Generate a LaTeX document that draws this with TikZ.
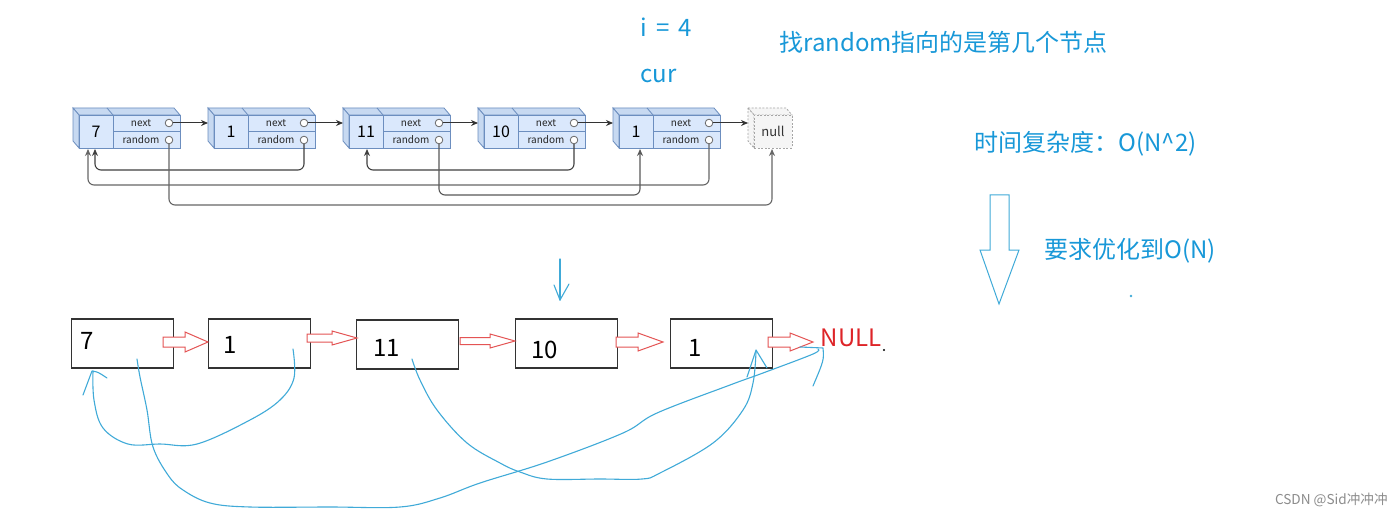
\documentclass[tikz,border=0pt]{standalone}
\usepackage{fontspec}
\setmainfont{Noto Sans CJK SC}
\usetikzlibrary{arrows.meta}
\definecolor{nblue}{HTML}{DAE8FC}
\definecolor{nblued}{HTML}{C7D9F1}
\definecolor{nstroke}{HTML}{6C8EBF}
\definecolor{tblue}{RGB}{24,152,216}
\definecolor{cblue}{RGB}{64,170,216}
\definecolor{rred}{RGB}{222,36,40}
\definecolor{ared}{RGB}{228,84,84}
\newcommand\redarrow[6]{\draw[redarr] (#1,#4-#5) -- (#2,#4-#5) -- (#2,#4-#6) -- (#3,#4) -- (#2,#4+#6) -- (#2,#4+#5) -- (#1,#4+#5) -- cycle;}
\begin{document}
\begin{tikzpicture}[x=0.5pt,y=-0.5pt,
  face/.style={draw=nstroke,line width=0.4pt,fill=nblue},
  sideface/.style={draw=nstroke,line width=0.4pt,fill=nblued},
  nullface/.style={draw=gray!70,dashed,dash pattern=on 1pt off 0.8pt,line width=0.4pt,fill=gray!8},
  pcirc/.style={circle,draw=black!60,fill=white,line width=0.4pt,minimum size=3.8pt,inner sep=0pt},
  small/.style={font=\fontsize{5}{6}\selectfont,inner sep=0pt,text=black!85},
  tval/.style={font=\fontsize{8}{10}\selectfont,inner sep=0pt},
  tnext/.style={draw=black!80,line width=0.5pt,-{Stealth[length=3.5pt,width=3pt]}},
  tlink/.style={draw=black!75,line width=0.55pt,rounded corners=3pt,-{Stealth[length=3.5pt,width=3pt]}},
  bbox/.style={draw=black!80,line width=0.6pt,minimum width=51pt,minimum height=24.5pt,inner sep=0pt},
  bval/.style={font=\fontsize{12}{14}\selectfont,inner sep=0pt},
  note/.style={text=tblue,font=\fontsize{12}{14}\selectfont,inner sep=0pt,anchor=west},
  hand/.style={draw=cblue,line width=0.55pt,line cap=round,line join=round},
  redarr/.style={draw=ared,fill=white,line width=0.5pt,line join=miter},
]
\useasboundingbox[fill=white] (0,0) rectangle (1400,518);

% ---------- top linked list ----------
\foreach \k/\v in {1/7,2/1,3/11,4/10,5/1}{
  \pgfmathsetmacro\X{79+135*(\k-1)}
  \filldraw[sideface] (\X-6,108) -- (\X+95,108) -- (\X+101,115) -- (\X,115) -- cycle;
  \filldraw[sideface] (\X-6,108) -- (\X,115) -- (\X,148) -- (\X-6,141) -- cycle;
  \draw[nstroke,line width=0.4pt] (\X+28,108) -- (\X+34,115);
  \node[face,minimum width=50.5pt,minimum height=16.5pt,inner sep=0pt] (t\k) at (\X+50.5,131.5) {};
  \draw[nstroke,line width=0.4pt] (\X+34,115) -- (\X+34,148);
  \draw[nstroke,line width=0.4pt] (\X+34,131.5) -- (\X+101,131.5);
  \node[tval] (v\k) at (\X+17,132) {\v};
  \node[small] (nx\k) at (\X+62,123) {next};
  \node[small] (rd\k) at (\X+62,140) {random};
  \node[pcirc] (n\k) at (\X+90,123) {};
  \node[pcirc] (r\k) at (\X+90,140) {};
  \coordinate (in\k) at (\X-6,123);
}
% null box
\filldraw[nullface] (748,108) -- (786,108) -- (792,115) -- (754,115) -- cycle;
\filldraw[nullface] (748,108) -- (754,115) -- (754,148) -- (748,141) -- cycle;
\node[nullface,minimum width=19pt,minimum height=16.5pt,inner sep=0pt,
      font=\fontsize{6.5}{8}\selectfont,text=black!80] (tn) at (773,131.5) {null};
\coordinate (innull) at (748,123);

\foreach \a/\b in {1/2,2/3,3/4,4/5}{\draw[tnext] (n\a.east) -- (in\b);}
\draw[tnext] (n5.east) -- (innull);

\coordinate (a1o) at (88,149);
\coordinate (a1i) at (95,149);
\coordinate (a3) at (367,149);
\coordinate (a5) at (640,149);
\coordinate (anull) at (772,149);
\coordinate (lvA) at (0,170);
\coordinate (lvB) at (0,185);
\coordinate (lvC) at (0,195);
\coordinate (lvE) at (0,205);
\draw[tlink] (r2.south) |- (a1i |- lvA) -- (a1i);
\draw[tlink] (r4.south) |- (a3 |- lvA) -- (a3);
\draw[tlink,draw=black!60] (r5.south) |- (a1o |- lvB) -- (a1o);
\draw[tlink,draw=black!65] (r3.south) |- (a5 |- lvC) -- (a5);
\draw[tlink,draw=black!60] (r1.south) |- (anull |- lvE) -- (anull);

% ---------- notes ----------
\node[note] (i4) at (640,27) {i\hspace{4.5pt}=\hspace{4.5pt}4};
\node[note] (cur) at (640,76) {cur};
\node[note] (find) at (779,42) {找random指向的是第几个节点};
\node[note] (time) at (974,144) {时间复杂度：O(N\textasciicircum 2)};
\node[note] (opt) at (1044,251) {要求优化到O(N)};
\draw[draw=cblue,line width=0.5pt,line join=miter] (990,195) -- (1009,195) -- (1009,250) -- (1019,250) -- (999,304) -- (980,250) -- (990,250) -- cycle;
\fill[cblue] (1131,296) circle (0.7pt);

% ---------- bottom list ----------
\node[bbox] (b1) at (122.5,343.5) {};
\node[bbox] (b2) at (259.5,343.5) {};
\node[bbox] (b3) at (407.5,344.5) {};
\node[bbox] (b4) at (566.5,343.5) {};
\node[bbox] (b5) at (721.5,343.5) {};
\node[bval] (bv1) at (87.5,341) {7};
\node[bval] (bv2) at (230,345) {1};
\node[bval] (bv3) at (386.5,347.5) {11};
\node[bval] (bv4) at (544.5,350) {10};
\node[bval] (bv5) at (695,347.5) {1};
\node[bval,text=rred] (null) at (851,338) {NULL};
\fill[black] (884,350) circle (0.6pt);

\redarrow{163}{185}{208}{342}{5}{10}
\redarrow{307}{332}{357}{338}{4}{7}
\redarrow{460}{490}{515}{341}{3.5}{7}
\redarrow{616}{638}{663}{342}{5}{9}
\redarrow{768}{790}{813}{342}{5}{9}

% cur pointer
\draw[hand] (560,259) -- (560,300);
\draw[hand] (554,285) -- (560,300) -- (569,284);

% hand-drawn random links
\draw[hand] plot[smooth,tension=0.6] coordinates {(293,349) (294,378) (280,400) (250,420) (197,444) (160,444) (128,444) (103,428) (94,400) (93,371)};
\draw[hand] (83,395) -- (92,371) .. controls (98,372) .. (107,378);

\draw[hand] plot[smooth,tension=0.6] coordinates {(137,359) (140,377) (147,410) (153,447) (168,475) (183,490) (210,503) (250,507) (330,507) (400,507) (440,498) (480,483) (547,462) (623,433) (657,413) (730,385) (763,373) (813,354) (818,349)};
\draw[hand] (800,347) -- (823,348) .. controls (824,360) .. (813,386);

\draw[hand] plot[smooth,tension=0.6] coordinates {(412,359) (420,380) (437,410) (467,443) (500,463) (520,472) (547,479) (600,479) (642,479) (660,473) (713,443) (743,410) (753,383) (756,352)};
\draw[hand] (747,377) -- (756,350) -- (767,368);

% watermark
\node[anchor=east,inner sep=0pt,text=black!45,font=\fontsize{6.8}{8}\selectfont] (wm) at (1388,500) {CSDN @Sid冲冲冲};
\end{tikzpicture}
\end{document}
